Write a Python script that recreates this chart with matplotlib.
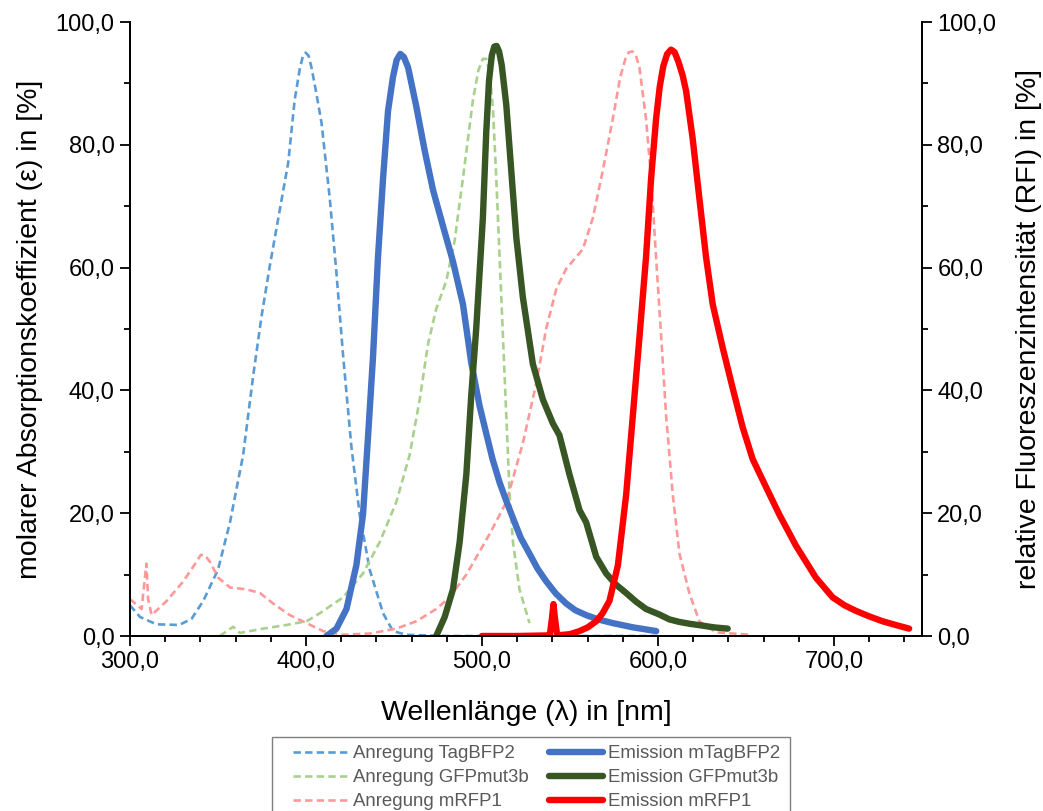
import matplotlib
matplotlib.use("Agg")
import matplotlib.pyplot as plt
from matplotlib.patches import Rectangle
from matplotlib.ticker import MultipleLocator, FuncFormatter

plt.rcParams['font.family'] = ['Liberation Sans', 'DejaVu Sans']

# --- spectra (wavelength in nm, value in %) ---
ex_bfp_wl = [300, 305.7, 315, 328, 335, 341.6, 350, 356.8, 364.3, 370, 374.7, 379.5,
             385.1, 389.9, 393.6, 396.5, 398.2, 399.8, 401.5, 403.1, 405.5, 408.8,
             413.5, 417.3, 421.1, 425.8, 430.5, 436.2, 443.8, 449.4, 457, 480, 520,
             560, 600]
ex_bfp_val = [5.0, 3.1, 1.9, 1.8, 2.8, 5.7, 10.8, 18.5, 29.5, 42.4, 52.0, 60.4,
              69.4, 77.1, 87.4, 92.4, 94.4, 95.0, 94.5, 92.6, 89.0, 83.6,
              71.3, 59.1, 45.6, 30.8, 19.8, 10.8, 3.7, 0.8, 0.2, 0.0, 0.0,
              0.0, 0.0]

em_bfp_wl = [411.6, 417.3, 423, 428.6, 432.4, 435.3, 438.1, 440.9, 443.8, 446.6,
             449.4, 451.5, 453.6, 455.6, 458, 462.7, 467.4, 472.2, 477.8, 483.5,
             489.2, 493.9, 498.6, 502.4, 506, 510, 513.8, 517.6, 522, 527, 531.5,
             536.5, 542, 547.8, 553, 559.2, 566, 574.3, 586, 599]
em_bfp_val = [0.0, 1.2, 4.4, 11.5, 19.8, 32.7, 45.6, 61.7, 74.6, 85.5,
              91.0, 93.8, 94.8, 94.3, 92.6, 86.2, 79.1, 72.6, 66.8, 61.0,
              54.0, 44.5, 37.5, 33.0, 28.8, 25.0, 22.0, 19.2, 16.0, 13.4, 11.0,
              8.9, 6.9, 5.3, 4.2, 3.4, 2.7, 2.1, 1.4, 0.8]

ex_gfp_wl = [351, 358.6, 362.4, 375.7, 388.9, 400.3, 407.8, 421.1, 432.4, 441.9,
             451.3, 458.9, 464.6, 469.3, 474, 479.7, 484.4, 489.2, 494.9, 498,
             500.5, 502.4, 504.3, 506.2, 508.1, 510, 511.9, 513.8, 515.7, 517.6,
             521.3, 527]
ex_gfp_val = [0.0, 1.5, 0.5, 1.2, 1.8, 2.4, 3.7, 6.3, 10.2, 15.3,
              21.8, 29.5, 38.5, 47.5, 53.3, 57.8, 64.3, 74.6, 87.4, 92.2,
              94.0, 94.0, 91.8, 86.0, 74.6, 61.7, 48.8, 35.9, 23.0, 15.3,
              7.6, 2.1]

em_gfp_wl = [474, 478.8, 483.5, 487.3, 491.1, 493.9, 496.7, 500.5, 502.4, 504,
             505.6, 507, 508.3, 509.7, 511.2, 513.8, 516.6, 519.5, 523.2, 528.9,
             534.6, 540.3, 544, 549.7, 555.4, 559.2, 564.9, 570.5, 576, 581.9,
             587.5, 593.2, 600.8, 606.5, 612, 617.8, 625, 632, 639.6]
em_gfp_val = [0.0, 3.1, 7.6, 15.3, 26.3, 39.2, 50.0, 68.1, 82.0, 90.5,
              94.6, 96.0, 96.1, 95.2, 93.0, 86.5, 75.9, 64.9, 55.2, 44.3,
              38.5, 34.6, 32.7, 26.3, 20.5, 18.5, 12.9, 10.2, 8.4, 7.0,
              5.6, 4.4, 3.5, 2.7, 2.3, 2.0, 1.7, 1.4, 1.2]

ex_rfp_wl = [300, 306.6, 308.3, 309.3, 310.3, 312.3, 320.8, 330.3, 337.8, 340.2,
             342.4, 345.4, 350.1, 356.8, 366.2, 373.8, 381.3, 390.8, 400.3, 409.7,
             421.1, 436.2, 451.3, 462.7, 474, 481.6, 491.1, 504.3, 513.8, 523.2,
             530.8, 536.5, 542.2, 547.8, 557.3, 563, 568.7, 574.3, 578.5, 581.5,
             583.5, 585.5, 587.5, 589.5, 593.2, 596.1, 598.9, 601.8, 604.6, 608.4,
             612.2, 617.8, 623.5, 633, 652]
ex_rfp_val = [6.0, 4.4, 9.0, 11.8, 6.0, 3.4, 5.7, 8.9, 12.1, 13.2,
              13.2, 12.1, 9.5, 7.9, 7.6, 7.0, 5.3, 3.4, 2.1, 0.8,
              0.2, 0.4, 1.2, 2.4, 4.4, 6.3, 10.0, 16.6, 21.8, 31.4,
              41.1, 50.1, 56.5, 59.8, 63.0, 68.1, 75.9, 84.2, 91.0, 94.0,
              95.1, 95.2, 94.5, 92.5, 84.2, 74.6, 61.7, 48.8, 35.9, 23.0,
              13.4, 7.0, 2.4, 0.6, 0.2]

em_rfp_wl = [500, 520, 538.5, 539.8, 540.6, 541.4, 542.7, 550, 555.4, 560, 564.9,
             568.5, 572.4, 577.2, 581.9, 585.7, 589.5, 593.2, 596.1, 598.9, 601,
             603, 605.2, 607.4, 609.4, 611.5, 614, 616, 619.7, 623.5, 627.3,
             631.1, 636.8, 642.4, 648.1, 653.8, 661.3, 668.9, 678.4, 689.7, 699.2,
             706, 712.4, 720, 727.6, 735, 742.7]
em_rfp_val = [0.0, 0.0, 0.1, 3.0, 5.2, 3.0, 0.1, 0.3, 0.8, 1.4, 2.4,
              3.7, 5.7, 11.5, 23.0, 35.9, 48.8, 61.7, 74.6, 84.2, 89.5,
              92.8, 94.8, 95.5, 95.1, 93.6, 91.3, 88.7, 81.0, 71.3, 61.7,
              54.0, 46.9, 40.4, 34.0, 28.8, 24.3, 19.8, 14.7, 9.5, 6.3,
              5.0, 4.1, 3.2, 2.4, 1.8, 1.2]

labels = ["Anregung TagBFP2", "Emission mTagBFP2",
          "Anregung GFPmut3b", "Emission GFPmut3b",
          "Anregung mRFP1", "Emission mRFP1"]

W, H = 1043, 811
fig = plt.figure(figsize=(W / 100, H / 100), dpi=100)
ax = fig.add_axes([130 / W, 1 - 636 / H, 792 / W, 614 / H])
ax2 = ax.twinx()

dash = (0, (2.8, 1.6))
thin = dict(lw=1.9, ls=dash, dash_joinstyle="round", dash_capstyle="butt")
thick = dict(lw=4.6, solid_capstyle="round", solid_joinstyle="round")
l1, = ax.plot(ex_bfp_wl, ex_bfp_val, color="#5B9BD5", **thin)
l3, = ax.plot(ex_gfp_wl, ex_gfp_val, color="#A9D18E", **thin)
l5, = ax.plot(ex_rfp_wl, ex_rfp_val, color="#FF9999", **thin)
l2, = ax.plot(em_bfp_wl, em_bfp_val, color="#4472C4", **thick)
l4, = ax.plot(em_gfp_wl, em_gfp_val, color="#375623", **thick)
l6, = ax.plot(em_rfp_wl, em_rfp_val, color="#FF0000", **thick)

comma = FuncFormatter(lambda v, p: f"{v:.1f}".replace(".", ","))

ax.set_xlim(300, 750)
for a in (ax, ax2):
    a.set_ylim(0, 100)
    a.yaxis.set_major_locator(MultipleLocator(20))
    a.yaxis.set_minor_locator(MultipleLocator(10))
    a.yaxis.set_major_formatter(comma)
    a.spines["top"].set_visible(False)
    for s in a.spines.values():
        s.set_linewidth(1.3)
    a.tick_params(axis="both", which="major", direction="out", length=7, width=1.3,
                  labelsize=17, colors="black", pad=4)
    a.tick_params(axis="both", which="minor", direction="out", length=4, width=1.3)

ax.xaxis.set_major_locator(MultipleLocator(100))
ax.xaxis.set_minor_locator(MultipleLocator(20))
ax.xaxis.set_major_formatter(FuncFormatter(
    lambda v, p: f"{v:.1f}".replace(".", ",") if v <= 700 else ""))

ax.set_xlabel("Wellenlänge (λ) in [nm]", fontsize=20.5, labelpad=19)
ax.set_ylabel("molarer Absorptionskoeffizient (ε) in [%]", fontsize=20.5, labelpad=9)
ax2.set_ylabel("relative Fluoreszenzintensität (RFI) in [%]", fontsize=20.5, labelpad=14)

# legend below the plot, with a plain grey frame
leg = fig.legend([l1, l3, l5, l2, l4, l6],
                 [labels[0], labels[2], labels[4], labels[1], labels[3], labels[5]],
                 ncol=2, loc="upper left",
                 bbox_to_anchor=(293 / W, 1 - 745 / H),
                 fontsize=13.4, frameon=False,
                 handlelength=2.9, handletextpad=0.3,
                 columnspacing=1.1, labelspacing=0.38, borderpad=0.0,
                 borderaxespad=0)
for t in leg.get_texts():
    t.set_color("#595959")
fig.patches.append(Rectangle((272 / W, -0.05), (790 - 272) / W, 0.05 + 1 - 737 / H,
                             transform=fig.transFigure, fill=False,
                             edgecolor="#7F7F7F", lw=1.0))

fig.savefig("out.png", dpi=100)
